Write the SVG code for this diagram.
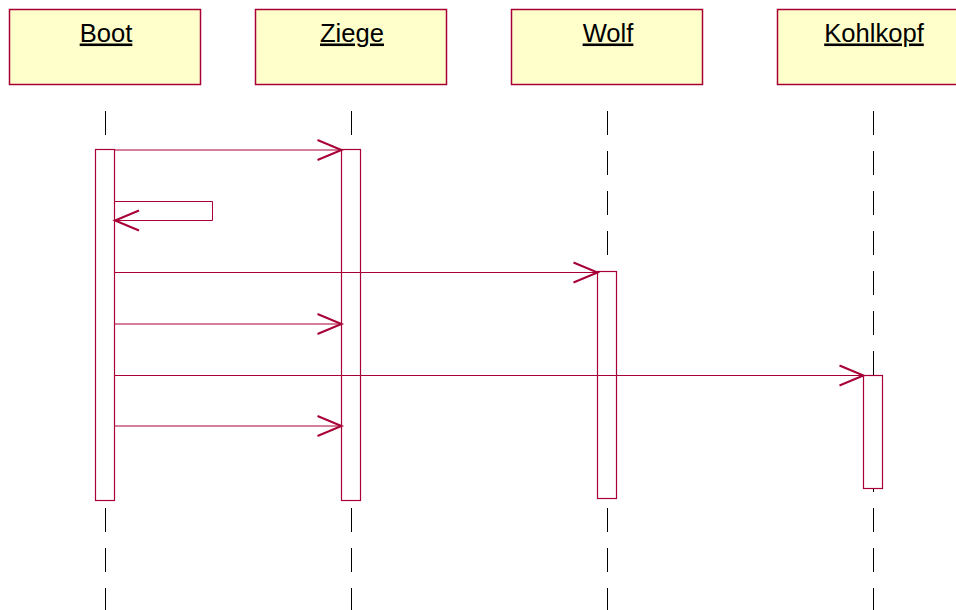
<svg xmlns="http://www.w3.org/2000/svg" width="956" height="610" viewBox="0 0 956 610">
<style>
.box{fill:#FFFFCC;stroke:#A80036;stroke-width:1.5}
.lbl{font-family:"Liberation Sans",Arial,sans-serif;font-size:25.6px;fill:#000;text-anchor:middle;text-decoration:underline}
.life{stroke:#000;stroke-width:1;stroke-dasharray:24 16;fill:none}
.act{fill:#fff;stroke:#A80036;stroke-width:1.2}
.msg{stroke:#A80036;stroke-width:1;fill:none}
</style>
<defs>
<marker id="open" markerUnits="userSpaceOnUse" markerWidth="30" markerHeight="24" viewBox="-26 -12 30 24" refX="0" refY="0" orient="auto">
<path d="M-24,-10 L0,0 L-24,10" fill="none" stroke="#A80036" stroke-width="2"/>
</marker>
</defs>
<rect width="956" height="610" fill="#fff"/>
<g id="lifelines">
<line class="life" x1="105.5" y1="111" x2="105.5" y2="149.5"/>
<line class="life" x1="105.5" y1="508" x2="105.5" y2="612"/>
<line class="life" x1="351.5" y1="111" x2="351.5" y2="149.5"/>
<line class="life" x1="351.5" y1="508" x2="351.5" y2="612"/>
<line class="life" x1="607.5" y1="111" x2="607.5" y2="271.5"/>
<line class="life" x1="607.5" y1="508" x2="607.5" y2="612"/>
<line class="life" x1="873.5" y1="111" x2="873.5" y2="375.5"/>
<line class="life" x1="873.5" y1="468" x2="873.5" y2="612"/>
</g>
<g id="boot">
<rect class="box" x="9.5" y="9.5" width="191" height="75"/>
<text class="lbl" x="106" y="41.5">Boot</text>
<rect class="act" x="95.5" y="149.5" width="19" height="351"/>
</g>
<g id="ziege">
<rect class="box" x="255.5" y="9.5" width="191" height="75"/>
<text class="lbl" x="352" y="41.5">Ziege</text>
<rect class="act" x="341.5" y="149.5" width="19" height="351"/>
</g>
<g id="wolf">
<rect class="box" x="511.5" y="9.5" width="191" height="75"/>
<text class="lbl" x="608" y="41.5">Wolf</text>
<rect class="act" x="597.5" y="271.5" width="19" height="227"/>
</g>
<g id="kohlkopf">
<rect class="box" x="777.5" y="9.5" width="191" height="75"/>
<text class="lbl" x="874" y="41.5">Kohlkopf</text>
<rect class="act" x="863.5" y="375.5" width="19" height="113"/>
</g>
<g id="connectors">
<line class="msg" x1="114.5" y1="150" x2="341.5" y2="150" marker-end="url(#open)"/>
<polyline class="msg" points="114.5,201.5 212.5,201.5 212.5,220.5 115,220.5" marker-end="url(#open)"/>
<line class="msg" x1="114.5" y1="272.5" x2="597.5" y2="272.5" marker-end="url(#open)"/>
<line class="msg" x1="114.5" y1="324" x2="341.5" y2="324" marker-end="url(#open)"/>
<line class="msg" x1="114.5" y1="375.5" x2="863.5" y2="375.5" marker-end="url(#open)"/>
<line class="msg" x1="114.5" y1="426" x2="341.5" y2="426" marker-end="url(#open)"/>
</g>
</svg>
